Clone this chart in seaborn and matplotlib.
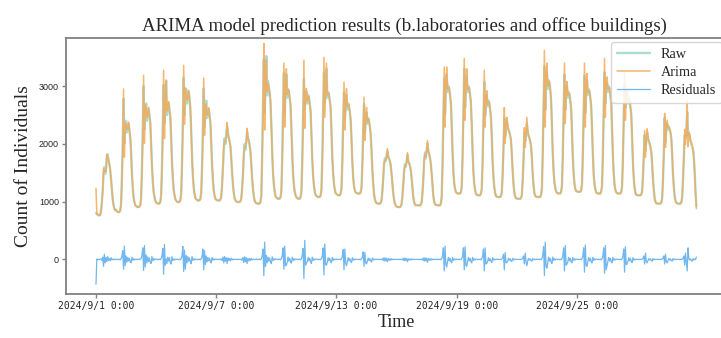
import pandas as pd
import matplotlib
matplotlib.use('Agg')
import matplotlib.pyplot as plt
import seaborn as sns

# hourly counts, 2024/9/1 0:00 - 2024/9/30 23:00 (one row per day)
start_time = '2024-09-01 00:00'
raw_counts = [
    800, 790, 775, 765, 760, 770, 830, 980, 1200, 1450, 1600, 1480, 1560, 1780, 1820, 1720, 1650, 1550, 1400, 1220, 1050, 940, 880, 850,
    860, 835, 820, 818, 822, 845, 950, 1400, 2000, 2780, 2000, 2250, 2400, 2200, 2300, 2350, 2250, 2100, 1850, 1500, 1250, 1080, 990, 940,
    925, 912, 906, 908, 915, 940, 1060, 1550, 2250, 3000, 2250, 2550, 2700, 2400, 2550, 2600, 2500, 2350, 2000, 1650, 1350, 1180, 1080, 1020,
    990, 972, 965, 966, 970, 995, 1110, 1600, 2350, 3020, 2350, 2600, 3100, 2500, 2650, 2700, 2600, 2450, 2100, 1700, 1400, 1220, 1110, 1050,
    1020, 1000, 993, 994, 998, 1020, 1130, 1650, 2400, 3150, 2500, 2800, 2950, 2700, 2850, 2900, 2800, 2600, 2200, 1750, 1450, 1250, 1130, 1070,
    1045, 1028, 1020, 1021, 1025, 1045, 1150, 1600, 2250, 2960, 2300, 2500, 2750, 2450, 2550, 2600, 2500, 2350, 2000, 1650, 1380, 1200, 1100, 1050,
    1035, 1025, 1020, 1020, 1022, 1035, 1090, 1280, 1600, 1900, 2100, 2000, 2150, 2300, 2200, 2100, 2050, 1950, 1750, 1500, 1300, 1150, 1060, 1020,
    1005, 996, 993, 993, 995, 1008, 1060, 1220, 1480, 1800, 2000, 1900, 2050, 2200, 2100, 2050, 1980, 1850, 1650, 1400, 1220, 1090, 1020, 985,
    975, 968, 966, 965, 968, 995, 1110, 1800, 2700, 3460, 2540, 2980, 3520, 2840, 3090, 2970, 2900, 2700, 2300, 1850, 1500, 1300, 1170, 1100,
    1075, 1058, 1050, 1050, 1053, 1080, 1190, 1750, 2600, 3230, 2520, 2900, 3200, 2800, 2950, 2900, 2800, 2650, 2250, 1800, 1480, 1290, 1170, 1110,
    1080, 1062, 1052, 1050, 1052, 1075, 1180, 1700, 2500, 3120, 2600, 2800, 2900, 2700, 2850, 2800, 2700, 2550, 2150, 1750, 1450, 1280, 1170, 1120,
    1100, 1088, 1080, 1080, 1083, 1105, 1210, 1750, 2550, 3230, 2730, 2850, 3300, 2800, 2900, 2850, 2750, 2600, 2200, 1780, 1480, 1310, 1200, 1150,
    1135, 1118, 1112, 1110, 1112, 1135, 1230, 1700, 2400, 2890, 2420, 2650, 2850, 2600, 2700, 2650, 2550, 2400, 2050, 1700, 1420, 1270, 1190, 1160,
    1150, 1145, 1140, 1140, 1142, 1165, 1250, 1650, 2250, 2690, 2180, 2400, 2550, 2350, 2450, 2400, 2300, 2150, 1850, 1550, 1300, 1130, 1040, 995,
    975, 970, 966, 965, 966, 978, 1030, 1180, 1420, 1650, 1750, 1700, 1800, 1880, 1780, 1740, 1700, 1620, 1480, 1300, 1140, 1030, 965, 930,
    915, 910, 906, 905, 906, 918, 965, 1100, 1300, 1520, 1650, 1600, 1700, 1810, 1700, 1660, 1620, 1540, 1400, 1230, 1080, 990, 950, 937,
    940, 937, 935, 935, 936, 948, 995, 1150, 1400, 1700, 1850, 1750, 1900, 2010, 1880, 1820, 1760, 1650, 1480, 1280, 1100, 1000, 958, 942,
    940, 937, 935, 935, 938, 965, 1090, 1650, 2500, 3130, 2520, 2950, 3200, 2900, 3000, 2950, 2850, 2700, 2300, 1850, 1500, 1320, 1220, 1170,
    1150, 1142, 1140, 1140, 1142, 1165, 1270, 1800, 2600, 3300, 2630, 2950, 3180, 2900, 3000, 2950, 2850, 2700, 2300, 1850, 1500, 1310, 1200, 1140,
    1120, 1112, 1110, 1110, 1112, 1135, 1230, 1720, 2450, 3075, 2490, 2700, 2850, 2650, 2750, 2700, 2600, 2450, 2100, 1700, 1420, 1250, 1150, 1100,
    1088, 1082, 1080, 1080, 1082, 1098, 1170, 1480, 1950, 2450, 2130, 2250, 2400, 2300, 2250, 2200, 2150, 2050, 1800, 1520, 1300, 1160, 1090, 1060,
    1053, 1051, 1050, 1050, 1051, 1062, 1120, 1380, 1750, 2200, 2050, 2150, 2350, 2200, 2150, 2100, 2050, 1950, 1750, 1480, 1280, 1150, 1100, 1085,
    1085, 1082, 1080, 1080, 1083, 1115, 1230, 1850, 2700, 3340, 2590, 3050, 3250, 2950, 3100, 3050, 2950, 2750, 2300, 1850, 1520, 1340, 1230, 1180,
    1155, 1145, 1141, 1140, 1143, 1170, 1280, 1800, 2600, 3200, 2590, 2850, 3000, 2800, 2900, 2850, 2750, 2600, 2200, 1800, 1480, 1310, 1220, 1185,
    1178, 1172, 1170, 1170, 1172, 1195, 1300, 1820, 2600, 3180, 2540, 2880, 3100, 2850, 2950, 2900, 2800, 2650, 2250, 1800, 1470, 1300, 1210, 1165,
    1148, 1142, 1140, 1140, 1142, 1170, 1280, 1820, 2650, 3240, 2700, 2950, 3050, 2900, 3000, 2950, 2850, 2700, 2250, 1800, 1480, 1300, 1200, 1165,
    1148, 1142, 1140, 1140, 1142, 1165, 1270, 1750, 2500, 3020, 2630, 2750, 2850, 2700, 2800, 2750, 2650, 2500, 2100, 1700, 1400, 1240, 1150, 1120,
    1112, 1110, 1110, 1110, 1111, 1125, 1180, 1430, 1800, 2150, 1880, 2050, 2200, 2100, 2050, 2000, 1950, 1850, 1650, 1400, 1200, 1060, 995, 972,
    968, 966, 965, 965, 967, 985, 1060, 1380, 1850, 2450, 2030, 2250, 2350, 2250, 2300, 2250, 2200, 2080, 1800, 1480, 1250, 1090, 1010, 982,
    970, 967, 965, 965, 968, 990, 1080, 1400, 1800, 2150, 2100, 2200, 2550, 2150, 2200, 2150, 2050, 2000, 1950, 1900, 1750, 1500, 1150, 920,
]
residuals = [
    -430, 8, -4, 3, -6, 5, 10, -15, 40, -120, 90, -60, 35, -40, 50, -20, 15, -25, 30, -10, 8, -5, 4, -3,
    6, -4, 3, -5, 4, -7, 15, 50, 150, -170, 230, -110, 60, -50, 35, -25, 20, -45, -60, 40, -15, 12, -8, 5,
    -5, 4, -3, 6, -4, 8, 12, 70, 200, -190, 240, -130, 80, -60, 45, -35, 25, -55, -70, 50, -25, 15, -10, 6,
    7, -5, 2, -4, 6, -6, 14, 65, 190, -255, 260, -100, 10, -70, 40, -30, 30, -60, -80, 45, -20, 10, -12, 4,
    5, -3, 4, -6, 3, -8, 16, 60, 225, -210, 160, -170, 70, -60, 50, -30, 25, -45, -75, 50, -18, 14, -9, 5,
    4, -5, 3, -4, 5, -6, 12, 55, 180, -180, 150, -90, 60, -45, 35, -25, 20, -40, -60, 35, -15, 10, -8, 4,
    3, -4, 2, -3, 4, -5, 8, -20, 40, -60, 50, -35, 30, -70, 25, -20, 15, -25, 20, -10, 6, -4, 3, -2,
    2, -3, 3, -2, 4, -4, 6, -15, 35, -55, 45, -40, 30, -70, 20, -25, 15, -20, 18, -8, 5, -3, 2, -2,
    8, -6, 4, -3, 5, -8, 12, 60, 180, -280, 300, -120, 70, -60, 40, -30, 25, -50, -70, 45, -20, 15, -10, 6,
    6, -4, 5, -3, 4, -7, 14, 65, 200, -170, 230, -110, -100, -50, 40, -30, 20, -45, -65, 40, -20, 12, -9, 5,
    5, -4, 3, -5, 4, -6, 12, 70, 190, -330, 330, -100, -60, -40, 35, -25, 20, -40, -70, 40, -18, 10, -8, 4,
    5, -3, 4, -4, 3, -6, 12, 60, 200, -270, 270, -90, -100, -45, 30, -25, 20, -40, -60, 35, -18, 10, -8, 4,
    5, -4, 3, -4, 4, -6, 10, 50, 170, -180, 180, -70, -110, -40, 30, -25, 15, -35, -55, 30, -15, 8, -7, 3,
    4, -3, 2, -3, 4, -5, 8, 40, 130, -120, 120, -60, -80, -30, 25, -20, 15, -30, -45, 25, -12, 8, -6, 3,
    2, -2, 3, -2, 2, -3, 5, -10, 25, -30, 30, -25, 20, -40, 15, -15, 10, -15, 12, -6, 4, -3, 2, -2,
    2, -2, 2, -2, 3, -3, 4, -8, 20, -25, 25, -20, 15, -40, 12, -12, 8, -12, 10, -5, 3, -2, 2, -1,
    2, -2, 2, -3, 2, -3, 5, -12, 25, -30, 30, -25, 20, -50, 15, -15, 10, -15, 12, -6, 4, -3, 2, -2,
    5, -4, 3, -4, 4, -6, 12, 60, 200, -200, 230, -90, -130, -40, 35, -25, 20, -40, -60, 35, -18, 10, -8, 4,
    5, -4, 3, -4, 4, -6, 12, 60, 200, -180, 220, -100, -120, -40, 35, -25, 20, -40, -60, 35, -18, 10, -8, 4,
    5, -4, 3, -4, 4, -6, 10, 55, 180, -200, 200, -80, -70, -35, 30, -25, 15, -35, -55, 30, -15, 8, -7, 3,
    3, -3, 2, -3, 3, -4, 8, 30, 90, -180, 120, -50, -60, -30, 20, -15, 12, -25, -35, 20, -10, 6, -5, 2,
    2, -3, 2, -2, 3, -3, 6, 20, 60, -80, 110, -40, -110, -25, 15, -12, 10, -20, -30, 15, -8, 5, -4, 2,
    6, -4, 4, -4, 5, -7, 14, 70, 220, -280, 300, -120, -150, -50, 40, -30, 20, -45, -70, 40, -20, 12, -9, 5,
    5, -4, 3, -4, 4, -6, 12, 60, 200, -200, 240, -100, -80, -40, 35, -25, 20, -40, -60, 35, -18, 10, -8, 4,
    5, -4, 3, -4, 4, -6, 12, 60, 200, -220, 250, -100, -120, -40, 35, -25, 20, -40, -60, 35, -18, 10, -8, 4,
    5, -4, 3, -4, 4, -6, 12, 60, 200, -240, 240, -180, -110, -40, 35, -25, 20, -40, -60, 35, -18, 10, -8, 4,
    5, -4, 3, -4, 4, -6, 10, 55, 180, -220, 220, -90, -80, -35, 30, -25, 15, -35, -55, 30, -15, 8, -7, 3,
    2, -3, 2, -2, 3, -3, 6, 20, 60, -80, 110, -40, -60, -25, 15, -12, 10, -20, -30, 15, -8, 5, -4, 2,
    2, -3, 2, -2, 3, -3, 6, 20, 60, -80, 90, -40, -60, -25, 15, -12, 10, -20, -30, 15, -8, 5, -4, 2,
    2, -3, 2, -2, 3, -3, 6, 20, 60, -100, 110, -40, -200, 200, 15, -12, 10, -20, -30, 15, -8, 5, -4, 40,
]
tick_dates = ['2024-09-01', '2024-09-07', '2024-09-13', '2024-09-19', '2024-09-25']
y_ticks = [0, 1000, 2000, 3000]

times = pd.date_range(start_time, periods=len(raw_counts), freq='h')
df = pd.DataFrame({'time': times, 'Raw': raw_counts, 'Residuals': residuals})
# fitted values of the model = observed - residual
df['Arima'] = df['Raw'] - df['Residuals']

sns.set_style('ticks')
plt.rcParams['font.family'] = ['Liberation Serif', 'DejaVu Serif']

fig = plt.figure(figsize=(7.21, 3.38), dpi=100)
ax = fig.add_axes([0.0915, 0.130, 0.916, 0.757])

sns.lineplot(data=df, x='time', y='Raw', color='#7ccabc', alpha=0.65, lw=1.7, label='Raw', ax=ax)
sns.lineplot(data=df, x='time', y='Arima', color='#f5a957', alpha=0.85, lw=1.1, label='Arima', ax=ax)
sns.lineplot(data=df, x='time', y='Residuals', color='#4fa6ea', alpha=0.8, lw=0.9, label='Residuals', ax=ax)

ax.set_ylim(-600, 3830)
ax.set_yticks(y_ticks)
ax.set_yticklabels([str(v) for v in y_ticks], fontfamily='Liberation Sans', fontsize=6.5)
ticks = pd.to_datetime(tick_dates)
ax.set_xticks(ticks)
ax.set_xticklabels([f'{d.year}/{d.month}/{d.day} 0:00' for d in ticks],
                   fontfamily='DejaVu Sans Mono', fontsize=7)
ax.tick_params(length=3, width=1, color='#808080', pad=2)

for sp in ax.spines.values():
    sp.set_color('#808080')
    sp.set_linewidth(1.3)

ax.set_title('ARIMA model prediction results (b.laboratories and office buildings)',
             fontsize=13.6, pad=5, x=0.513)
ax.set_xlabel('Time', fontsize=13, labelpad=2)
ax.set_ylabel('Count of Individuals', fontsize=14, labelpad=5)

ax.legend(loc='upper right', fontsize=10.3, framealpha=0.85, edgecolor='#d0d0d0',
          borderaxespad=0.3, handlelength=2.3, labelspacing=0.35)

fig.savefig('out.png', dpi=100)
